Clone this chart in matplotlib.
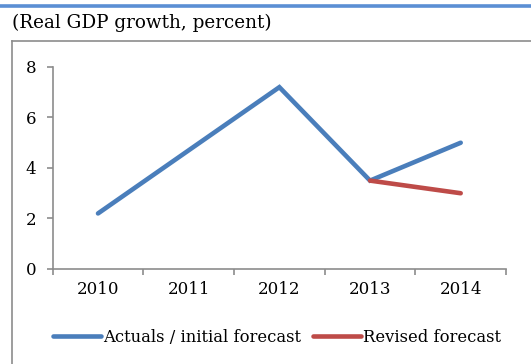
from matplotlib import pyplot as plt
from matplotlib.lines import Line2D
import numpy as np

years = ['2010', '2011', '2012', '2013', '2014']
actuals = [2.2, 4.7, 7.2, 3.5, 5.0]
revised_years = ['2013', '2014']
revised = [3.5, 3.0]

blue = '#4A7EBB'
red = '#BE4B48'
grey = '#8C8C8C'

plt.rcParams['font.family'] = 'DejaVu Serif'

fig = plt.figure(figsize=(5.31, 3.64), dpi=100)
ax = fig.add_axes([0.0992, 0.261, 0.8538, 0.555])

x = np.arange(len(years))
xr = [years.index(y) for y in revised_years]
ax.plot(x, actuals, color=blue, lw=3.3, solid_capstyle='round', solid_joinstyle='miter',
        label='Actuals / initial forecast')
ax.plot(xr, revised, color=red, lw=3.3, solid_capstyle='round',
        label='Revised forecast')

ax.set_xlim(-0.5, len(years) - 0.5)
ax.set_ylim(0, 8)
ax.set_yticks([0, 2, 4, 6, 8])

# tick marks sit between categories, labels in the middle
ax.set_xticks(np.arange(-0.5, len(years)), labels=[''] * (len(years) + 1))
ax.set_xticks(x, labels=years, minor=True)
ax.tick_params(axis='x', which='minor', length=0, pad=9, labelsize=12)
ax.tick_params(axis='x', which='major', length=4, color=grey, width=1.2)
ax.tick_params(axis='y', length=4, color=grey, width=1.2, pad=8, labelsize=12)

for s in ['top', 'right']:
    ax.spines[s].set_visible(False)
for s in ['left', 'bottom']:
    ax.spines[s].set_color(grey)
    ax.spines[s].set_linewidth(1.2)

ax.legend(loc='center', bbox_to_anchor=(0.522, 0.074), bbox_transform=fig.transFigure,
          ncol=2, frameon=False, fontsize=11.8, handlelength=2.9, handletextpad=0.15,
          columnspacing=0.75)

# frame and header
fig.add_artist(Line2D([0, 1], [1 - 5.5 / 364] * 2, color='#5B8FD4', lw=2.6))
fig.add_artist(Line2D([12 / 531, 1], [1 - 41 / 364] * 2, color=grey, lw=1.2))
fig.add_artist(Line2D([12 / 531] * 2, [1 - 41 / 364, 0], color=grey, lw=1.2))
fig.text(12 / 531, 1 - 23 / 364, '(Real GDP growth, percent)', fontsize=13.2, va='center')

plt.savefig('out.png', dpi=100)
